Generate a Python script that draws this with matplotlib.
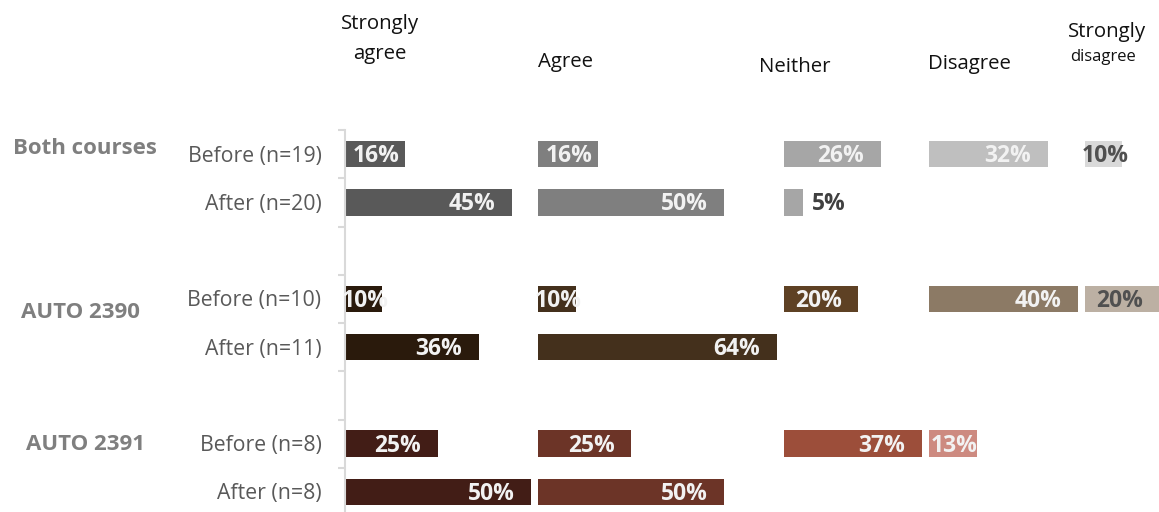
import matplotlib
matplotlib.use("Agg")
import matplotlib.pyplot as plt
import numpy as np

plt.rcParams['font.family'] = ['Open Sans', 'DejaVu Sans']

# data (percent of respondents), blank rows separate the groups
categories = ['Strongly agree', 'Agree', 'Neither', 'Disagree', 'Strongly disagree']
row_labels = ['Before (n=19)', 'After (n=20)', '', 'Before (n=10)', 'After (n=11)', '',
              'Before (n=8)', 'After (n=8)']
groups = ['Both courses', 'AUTO 2390', 'AUTO 2391']
strongly_agree = [16, 45, 0, 10, 36, 0, 25, 50]
agree = [16, 50, 0, 10, 64, 0, 25, 50]
neither = [26, 5, 0, 20, 0, 0, 37, 0]
disagree = [32, 0, 0, 40, 0, 0, 13, 0]
strongly_disagree = [10, 0, 0, 20, 0, 0, 0, 0]
columns = [strongly_agree, agree, neither, disagree, strongly_disagree]

# colours per group (one per answer category)
palettes = [
    ['#595959', '#7f7f7f', '#a6a6a6', '#bfbfbf', '#d9d9d9'],
    ['#2a1a0c', '#44301c', '#5e4124', '#8c7a65', '#bcb0a3'],
    ['#421d16', '#6c3427', '#9c4e3a', '#cd8a80', '#e0b8b0'],
]
row_group = [0, 0, None, 1, 1, None, 2, 2]

W, H = 1159, 512
px_per_pct = 3.72
gap = 2

fig = plt.figure(figsize=(W / 100, H / 100), dpi=100)
ax = fig.add_axes([345 / W, 1 - 516 / H, 1 - 345 / W, 386 / H])
ax.set_xlim(0, (W - 345) / px_per_pct)
ax.set_ylim(len(row_labels) - 0.5, -0.5)

# each answer column starts after the widest bar of the previous one
offsets = []
start = 0
for col in columns:
    offsets.append(start)
    start += max(col) + gap

y = np.arange(len(row_labels))
lab_kw = dict(va='center', fontsize=16.5, fontweight='bold',
              textcoords='offset points', annotation_clip=False)
for c, col in enumerate(columns):
    for i, v in enumerate(col):
        if v == 0:
            continue
        colour = palettes[row_group[i]][c]
        ax.barh(y[i], v, left=offsets[c], height=0.55, color=colour)
        end = offsets[c] + v
        dark_text = c == 4 and row_group[i] < 2
        tcol = '#505050' if dark_text else '#f2f2f2'
        txt = '%d%%' % v
        if v < 8:
            ax.annotate(txt, (end, y[i]), xytext=(7, -1.5), ha='left',
                        color='#404040', **lab_kw)
        elif v < 20:
            ax.annotate(txt, (offsets[c] + v / 2, y[i]), xytext=(1, -1.5),
                        ha='center', color=tcol, **lab_kw)
        else:
            ax.annotate(txt, (end, y[i]), xytext=(-12, -1.5), ha='right',
                        color=tcol, **lab_kw)

for s in ['top', 'right', 'bottom']:
    ax.spines[s].set_visible(False)
ax.spines['left'].set_color('#d9d9d9')
ax.spines['left'].set_linewidth(1.5)
ax.set_xticks([])
ax.set_yticks(np.arange(-0.5, len(row_labels), 1))
ax.set_yticklabels([])
ax.tick_params(axis='y', length=5, width=1.5, color='#d9d9d9')

for i, lab in enumerate(row_labels):
    ax.annotate(lab, xy=(0, y[i]), xycoords=ax.get_yaxis_transform(),
                xytext=(-17, -1.5), textcoords='offset points', ha='right', va='center',
                fontsize=15.3, color='#595959')

def ftext(x, yy, s, **kw):
    fig.text(x / W, 1 - yy / H, s, ha='center', va='center', **kw)

for g, (gx, gy) in zip(groups, [(85, 148), (80, 312), (85, 445)]):
    ftext(gx, gy, g, fontsize=16, fontweight='bold', color='#7f7f7f')

head = dict(fontsize=14.7, color='#111111')
ftext(380, 24, 'Strongly', **head)
ftext(380, 54, 'agree', **head)
ftext(566, 62, 'Agree', **head)
ftext(795, 67, 'Neither', **head)
ftext(969, 64, 'Disagree', **head)
ftext(1107, 32, 'Strongly', **head)
ftext(1103, 57, 'disagree', fontsize=12, color='#111111')

fig.savefig('out.png', dpi=100)
